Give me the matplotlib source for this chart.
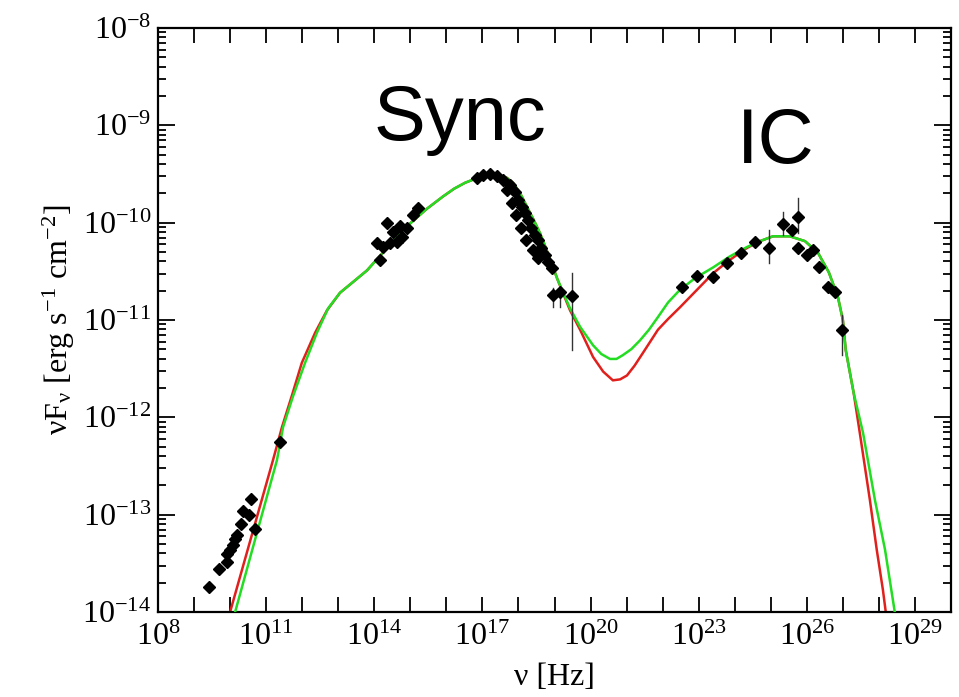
import numpy as np
import matplotlib
matplotlib.use('Agg')
import matplotlib.pyplot as plt
from matplotlib.ticker import NullLocator, LogLocator

plt.rcParams['font.family'] = 'Liberation Serif'
plt.rcParams['mathtext.fontset'] = 'custom'
plt.rcParams['mathtext.rm'] = 'Liberation Serif'
plt.rcParams['mathtext.it'] = 'Liberation Serif:italic'
plt.rcParams['mathtext.bf'] = 'Liberation Serif:bold'

# data points, log10(nu) and log10(nuFnu)
radio_lognu = [9.41, 9.69, 9.91, 9.91, 10.00, 10.08, 10.14, 10.19, 10.30, 10.36, 10.52, 10.58, 10.69, 11.38]
radio_logf = [-13.74, -13.56, -13.49, -13.40, -13.36, -13.31, -13.25, -13.21, -13.10, -12.96, -13.00, -12.84, -13.15, -12.25]

opt_lognu = [14.16, 14.08, 14.35, 14.52, 14.63, 14.77, 15.07, 15.21, 14.44, 14.91, 14.24, 14.71]
opt_logf = [-10.38, -10.21, -10.00, -10.10, -10.20, -10.15, -9.92, -9.85, -10.21, -10.05, -10.25, -10.03]

xray_lognu = [16.85, 17.02, 17.21, 17.40, 17.57, 17.76, 17.90, 17.99, 18.10, 18.18, 18.26, 18.35,
              18.46, 18.54, 18.62, 18.74, 18.82, 18.93, 18.96, 19.15, 19.48,
              17.68, 17.82, 17.93, 18.07, 18.21, 18.40, 18.54]
xray_logf = [-9.54, -9.51, -9.50, -9.52, -9.56, -9.61, -9.69, -9.77, -9.84, -9.90, -9.97, -10.05,
             -10.13, -10.18, -10.26, -10.33, -10.40, -10.47, -10.74, -10.71, -10.75,
             -9.66, -9.80, -9.92, -10.05, -10.18, -10.28, -10.36]

gamma_lognu = [22.54, 22.95, 23.40, 23.78, 24.17, 24.56, 24.95, 25.34, 25.59, 25.75, 25.75,
               26.00, 26.17, 26.34, 26.59, 26.78, 26.97]
gamma_logf = [-10.66, -10.55, -10.56, -10.41, -10.31, -10.20, -10.26, -10.01, -10.08, -9.94, -10.26,
              -10.33, -10.28, -10.46, -10.66, -10.71, -11.10]

# error bars: log10(nu), upper, lower
err_lognu = [18.96, 19.15, 19.48, 24.95, 25.34, 25.75, 26.97]
err_hi = [-10.67, -10.69, -10.52, -10.08, -9.89, -9.75, -10.95]
err_lo = [-10.87, -10.87, -11.31, -10.41, -10.13, -10.11, -11.36]

# model curves
green_lognu = [10.05, 10.14, 11.30, 11.47, 11.74, 12.08, 12.41, 12.72, 13.05, 13.41, 13.80, 14.16,
               14.58, 14.99, 15.45, 15.91, 16.22, 16.52, 16.93, 17.10, 17.29, 17.50, 17.68, 17.85,
               18.05, 18.24, 18.42, 18.60, 18.78, 18.96, 19.08, 19.21, 19.43,
               19.71, 20.07, 20.30, 20.54, 20.72, 20.90, 21.13, 21.37, 21.62, 21.87, 22.15, 22.48,
               22.90, 23.40, 23.85, 24.34, 24.70, 25.06, 25.53, 25.95,
               26.31, 26.61, 26.86, 27.00, 27.08, 27.30, 27.56, 27.89, 28.17, 28.44, 28.53]
green_logf = [-14.18, -14.00, -12.44, -12.10, -11.79, -11.44, -11.13, -10.88, -10.72, -10.61, -10.49, -10.34,
              -10.17, -10.01, -9.86, -9.73, -9.65, -9.59, -9.53, -9.515, -9.51, -9.52, -9.54, -9.59,
              -9.70, -9.84, -9.97, -10.11, -10.28, -10.46, -10.58, -10.69, -10.88,
              -11.07, -11.26, -11.35, -11.40, -11.40, -11.36, -11.30, -11.21, -11.10, -10.97, -10.82, -10.69,
              -10.57, -10.46, -10.35, -10.25, -10.19, -10.14, -10.14, -10.19,
              -10.31, -10.51, -10.76, -11.00, -11.31, -11.75, -12.16, -12.85, -13.36, -14.00, -14.19]

red_lognu = [9.91, 10.00, 11.19, 11.44, 11.72, 11.99, 12.36, 12.69, 13.05, 13.41, 13.80, 14.16,
             14.58, 14.99, 15.45, 15.91, 16.22, 16.52, 16.93, 17.10, 17.29, 17.50, 17.68, 17.85,
             18.05, 18.24, 18.42, 18.60, 18.78, 18.96, 19.08, 19.21, 19.43,
             19.71, 20.07, 20.35, 20.62, 20.82, 21.01, 21.22, 21.45, 21.87, 22.15, 22.48, 22.90,
             23.40, 23.80, 24.14, 24.34, 24.70, 25.06, 25.53, 25.95,
             26.31, 26.61, 26.86, 27.00, 27.08, 27.30, 27.47, 27.75, 27.94, 28.11, 28.19, 28.22]
red_logf = [-14.18, -14.00, -12.44, -12.10, -11.77, -11.44, -11.13, -10.90, -10.72, -10.61, -10.49, -10.34,
            -10.17, -10.01, -9.86, -9.73, -9.65, -9.59, -9.53, -9.515, -9.51, -9.52, -9.54, -9.59,
            -9.70, -9.84, -9.97, -10.11, -10.28, -10.46, -10.58, -10.70, -10.90,
            -11.10, -11.38, -11.53, -11.62, -11.61, -11.57, -11.47, -11.34, -11.10, -10.99, -10.87, -10.71,
            -10.52, -10.40, -10.31, -10.26, -10.19, -10.14, -10.14, -10.19,
            -10.31, -10.51, -10.76, -11.00, -11.31, -11.75, -12.16, -12.85, -13.36, -13.77, -14.00, -14.19]

xtick_exp = list(range(8, 31))
xlabel_exp = [8, 11, 14, 17, 20, 23, 26, 29]
ytick_exp = list(range(-14, -7))

fig = plt.figure(figsize=(9.59, 6.97), dpi=100)
ax = fig.add_axes([158 / 959, 1 - 612 / 697, 793 / 959, 584 / 697])

ax.plot(10.0 ** np.array(red_lognu), 10.0 ** np.array(red_logf), color='#e0201c', lw=1.8, zorder=2)
ax.plot(10.0 ** np.array(green_lognu), 10.0 ** np.array(green_logf), color='#22dd22', lw=1.8, zorder=3)

for lx, hi, lo in zip(err_lognu, err_hi, err_lo):
    ax.plot([10.0 ** lx, 10.0 ** lx], [10.0 ** lo, 10.0 ** hi], color='#333333', lw=1.0, zorder=4)

all_nu = radio_lognu + opt_lognu + xray_lognu + gamma_lognu
all_f = radio_logf + opt_logf + xray_logf + gamma_logf
ax.plot(10.0 ** np.array(all_nu), 10.0 ** np.array(all_f), 'D', color='black', ms=6, zorder=5, ls='none')

ax.set_xscale('log')
ax.set_yscale('log')
ax.set_xlim(1e8, 1e30)
ax.set_ylim(1e-14, 1e-8)

ax.set_xticks([10.0 ** e for e in xtick_exp])
ax.set_xticklabels([r'$\mathregular{10^{%d}}$' % e if e in xlabel_exp else '' for e in xtick_exp])
ax.xaxis.set_minor_locator(NullLocator())
ax.set_yticks([10.0 ** e for e in ytick_exp])
ax.set_yticklabels([r'$\mathregular{10^{%d}}$' % e for e in ytick_exp])
ax.yaxis.set_minor_locator(LogLocator(base=10, subs=np.arange(2, 10), numticks=20))

ax.tick_params(which='both', direction='in', top=True, right=True, width=1.3)
ax.tick_params(axis='x', which='major', length=11, labelsize=23, pad=8)
ax.tick_params(axis='y', which='major', length=12, labelsize=23, pad=5)
ax.tick_params(axis='y', which='minor', length=6)
for s in ax.spines.values():
    s.set_linewidth(1.6)

ax.set_xlabel(r'ν [Hz]', fontsize=23, labelpad=8)
ax.set_ylabel(r'νF$_\mathregular{ν}$ [erg s$^\mathregular{-1}$ cm$^\mathregular{-2}$]', fontsize=23, labelpad=4)

ax.text(0.381, 0.808, 'Sync', transform=ax.transAxes, ha='center', va='baseline',
        fontsize=56, family='Liberation Sans')
ax.text(0.779, 0.769, 'IC', transform=ax.transAxes, ha='center', va='baseline',
        fontsize=56, family='Liberation Sans')

fig.savefig('out.png', dpi=100)
